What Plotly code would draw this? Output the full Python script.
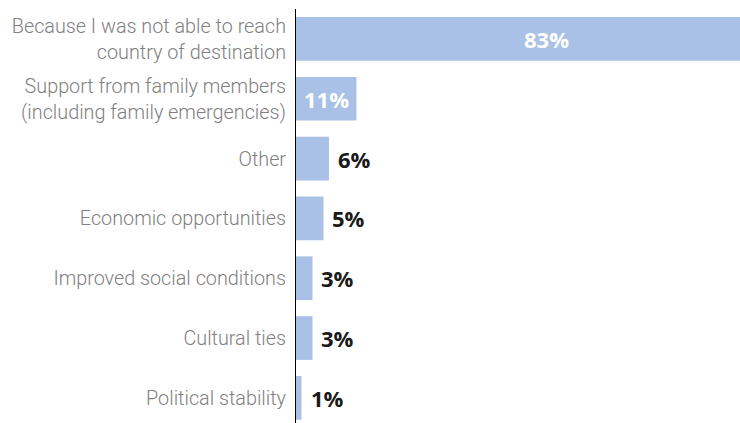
import plotly.graph_objects as go

categories = [
    "Because I was not able to reach<br>country of destination",
    "Support from family members<br>(including family emergencies)",
    "Other",
    "Economic opportunities",
    "Improved social conditions",
    "Cultural ties",
    "Political stability",
]
values = [83, 11, 6, 5, 3, 3, 1]
value_labels = ["83%", "11%", "6%", "5%", "3%", "3%", "1%"]

BAR = "#a9c1e6"
VFONT = "Open Sans"
VSIZE = 22

fig = go.Figure(go.Bar(
    x=values, y=categories, orientation="h",
    marker=dict(color=BAR, line=dict(width=0)),
    hoverinfo="skip",
))

annotations = []
for cat, v, lab in zip(categories, values, value_labels):
    if v > 50:
        annotations.append(dict(x=v / 2, y=cat, text=lab, xanchor="center", xshift=22,
                                showarrow=False,
                                font=dict(family=VFONT, size=VSIZE, color="white", weight=700)))
    elif v > 10:
        annotations.append(dict(x=0, y=cat, text=lab, xanchor="left", xshift=6,
                                showarrow=False,
                                font=dict(family=VFONT, size=VSIZE, color="white", weight=700)))
    else:
        annotations.append(dict(x=v, y=cat, text=lab, xanchor="left", xshift=7,
                                showarrow=False,
                                font=dict(family=VFONT, size=VSIZE, color="#1a1a1a", weight=700)))

fig.update_layout(
    width=740, height=423,
    margin=dict(l=296, r=0, t=9, b=0, autoexpand=False),
    paper_bgcolor="white", plot_bgcolor="white",
    bargap=0.27,
    showlegend=False,
    annotations=annotations,
    xaxis=dict(range=[0, 80.8], visible=False, fixedrange=True, automargin=False),
    yaxis=dict(
        type="category",
        range=[6.42, -0.5],
        automargin=False,
        showline=True, linecolor="black", linewidth=1,
        showgrid=False, zeroline=False,
        ticks="", ticklabelstandoff=5,
        tickfont=dict(family="Roboto", size=19.8, color="#808080", weight=300),
        fixedrange=True,
    ),
)

fig.write_html("out.html", config={"displayModeBar": False},
               post_script="document.body.style.margin='0';")
